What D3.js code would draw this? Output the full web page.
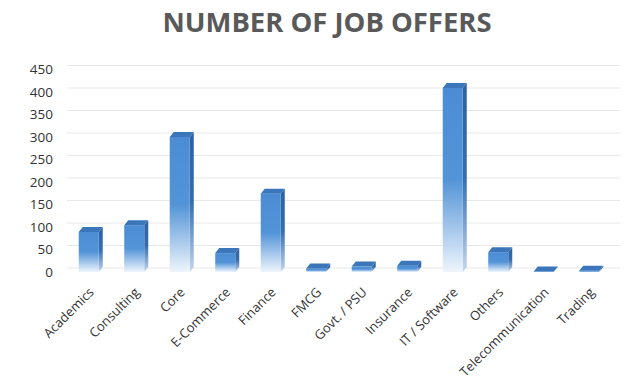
<!DOCTYPE html>
<html>
<head>
<meta charset="utf-8">
<script src="https://cdn.jsdelivr.net/npm/d3@7"></script>
<style>
  html, body { margin: 0; padding: 0; background: #ffffff; }
  svg { display: block; }
</style>
</head>
<body>
<svg id="chart" width="629" height="381"></svg>
<script>
const titleText = "NUMBER OF JOB OFFERS";
const categories = ["Academics", "Consulting", "Core", "E-Commerce", "Finance", "FMCG",
  "Govt. / PSU", "Insurance", "IT / Software", "Others", "Telecommunication", "Trading"];
const offers = [89, 104, 300, 42, 174, 8, 12, 14, 409, 44, 1, 3];
const yTicks = [0, 50, 100, 150, 200, 250, 300, 350, 400, 450];

const svg = d3.select("#chart");
const baseY = 272, topY = 69.5;
const depthX = 4, depthY = 5, gridShift = 4;

const x = d3.scaleBand().domain(categories).range([66, 612]).paddingInner(0.56).paddingOuter(0.28);
const y = d3.scaleLinear().domain([0, 450]).range([baseY, topY]);

const defs = svg.append("defs");
const gFront = defs.append("linearGradient").attr("id", "gFront").attr("x1", 0).attr("y1", 0).attr("x2", 0).attr("y2", 1);
gFront.append("stop").attr("offset", "0").attr("stop-color", "#4c8cd4");
gFront.append("stop").attr("offset", "0.5").attr("stop-color", "#5394d8");
gFront.append("stop").attr("offset", "1").attr("stop-color", "#eef5fc");
const gSide = defs.append("linearGradient").attr("id", "gSide").attr("x1", 0).attr("y1", 0).attr("x2", 0).attr("y2", 1);
gSide.append("stop").attr("offset", "0").attr("stop-color", "#2d62a0");
gSide.append("stop").attr("offset", "0.5").attr("stop-color", "#346dad");
gSide.append("stop").attr("offset", "1").attr("stop-color", "#c4d7ee");

// title
svg.append("text")
  .attr("x", 327).attr("y", 32)
  .attr("text-anchor", "middle")
  .attr("font-family", "'Open Sans', sans-serif")
  .attr("font-weight", "bold")
  .attr("font-size", 26)
  .attr("fill", "#595959")
  .attr("textLength", 329)
  .attr("lengthAdjust", "spacingAndGlyphs")
  .text(titleText);

// gridlines on back wall
svg.append("g").selectAll("line").data(yTicks).join("line")
  .attr("x1", 67).attr("x2", 620)
  .attr("y1", d => y(d) - gridShift).attr("y2", d => y(d) - gridShift)
  .attr("stroke", "#e8e8e8").attr("stroke-width", 1);

// y axis labels
const yAxis = d3.axisLeft(y).tickValues(yTicks).tickSize(0).tickPadding(0);
const ya = svg.append("g").attr("transform", "translate(53,0)").call(yAxis);
ya.select(".domain").remove();
ya.selectAll("text")
  .attr("font-family", "'Open Sans', sans-serif")
  .attr("font-size", 13.5)
  .attr("fill", "#333333");

// bars
const bars = svg.append("g").selectAll("g").data(categories.map((c, i) => ({c, v: offers[i]}))).join("g");
bars.append("path")
  .attr("d", d => {
    const x0 = x(d.c) + x.bandwidth(), t = y(d.v);
    return `M${x0},${t} L${x0 + depthX},${t - depthY} L${x0 + depthX},${baseY - depthY} L${x0},${baseY} Z`;
  })
  .attr("fill", "url(#gSide)");
bars.append("rect")
  .attr("x", d => x(d.c)).attr("width", x.bandwidth())
  .attr("y", d => y(d.v)).attr("height", d => baseY - y(d.v))
  .attr("fill", "url(#gFront)");
bars.append("path")
  .attr("d", d => {
    const x0 = x(d.c), x1 = x0 + x.bandwidth(), t = y(d.v);
    return `M${x0},${t} L${x0 + depthX},${t - depthY} L${x1 + depthX},${t - depthY} L${x1},${t} Z`;
  })
  .attr("fill", "#3b76bb");

// x labels
svg.append("g").selectAll("text").data(categories).join("text")
  .attr("transform", d => `translate(${x(d) + x.bandwidth() / 2 + 6},293) rotate(-45)`)
  .attr("text-anchor", "end")
  .attr("font-family", "'Open Sans', sans-serif")
  .attr("font-size", 13)
  .attr("fill", "#333333")
  .text(d => d);
</script>
</body>
</html>
